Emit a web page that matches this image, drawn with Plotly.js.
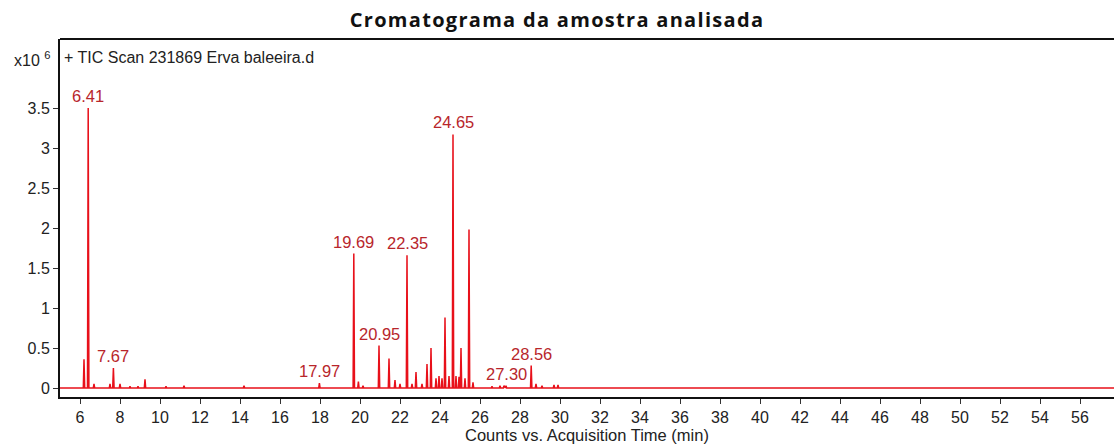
<!DOCTYPE html>
<html>
<head>
<meta charset="utf-8">
<script src="https://cdn.plot.ly/plotly-3.0.1.min.js"></script>
<style>html,body{margin:0;padding:0;background:#fff;}#chart{width:1114px;height:446px;}</style>
</head>
<body>
<div id="chart"></div>
<script>
// Retention times (min) of the peaks
const peakTimes = [6.2, 6.41, 6.7, 7.5, 7.67, 8.0, 8.5, 8.9, 9.25, 10.3, 11.2, 14.2, 17.97,
  19.69, 19.92, 20.15, 20.95, 21.45, 21.75, 22.0, 22.35, 22.6, 22.8, 23.1, 23.35, 23.55,
  23.8, 23.95, 24.1, 24.25, 24.45, 24.65, 24.8, 24.95, 25.05, 25.25, 25.45, 25.65,
  26.6, 27.0, 27.2, 27.3, 28.56, 28.8, 29.1, 29.7, 29.9];
// Peak heights (x10^6 counts)
const peakHeights = [0.36, 3.5, 0.05, 0.05, 0.25, 0.05, 0.02, 0.02, 0.11, 0.02, 0.03, 0.03, 0.06,
  1.68, 0.08, 0.03, 0.53, 0.37, 0.1, 0.05, 1.66, 0.05, 0.2, 0.05, 0.3, 0.5,
  0.12, 0.15, 0.12, 0.88, 0.15, 3.17, 0.15, 0.14, 0.5, 0.12, 1.98, 0.07,
  0.02, 0.03, 0.03, 0.03, 0.28, 0.05, 0.03, 0.04, 0.04];
// Labelled peaks
const labelTimes = [6.41, 7.67, 17.97, 19.69, 20.95, 22.35, 24.65, 27.30, 28.56];
const labelTexts = ["6.41", "7.67", "17.97", "19.69", "20.95", "22.35", "24.65", "27.30", "28.56"];
// Axis ticks
const xTicks = [6,8,10,12,14,16,18,20,22,24,26,28,30,32,34,36,38,40,42,44,46,48,50,52,54,56];
const yTicks = [0, 0.5, 1, 1.5, 2, 2.5, 3, 3.5];
const yTickText = ["0", "0.5", "1", "1.5", "2", "2.5", "3", "3.5"];
const xRange = [5, 57.7];
const yRange = [-0.1125, 4.3625];

const FONT = 'Liberation Sans, Arial, sans-serif';

// Build a spike trace from the peak list
const halfWidth = 0.035;
const xs = [xRange[0]], ys = [0];
peakTimes.forEach((t, i) => {
  xs.push(t - halfWidth, t, t + halfWidth);
  ys.push(0, peakHeights[i], 0);
});
xs.push(xRange[1]); ys.push(0);

const annotations = labelTimes.map((t, i) => {
  const idx = peakTimes.findIndex(p => Math.abs(p - t) < 1e-6);
  return {
    x: t, y: peakHeights[idx], xref: 'x', yref: 'y',
    text: labelTexts[i], showarrow: false, yanchor: 'bottom', yshift: 1,
    font: {family: FONT, size: 16.5, color: '#b8262b'}
  };
});
annotations.push({
  xref: 'paper', yref: 'paper', x: 0.002, y: 1, xanchor: 'left', yanchor: 'top', yshift: -8,
  text: '+ TIC Scan 231869 Erva baleeira.d', showarrow: false,
  font: {family: FONT, size: 16, color: '#222'}
});
annotations.push({
  xref: 'paper', yref: 'paper', x: -0.008, y: 1, xanchor: 'right', yanchor: 'top', yshift: -8,
  text: 'x10 <sup>6</sup>', showarrow: false,
  font: {family: FONT, size: 16, color: '#222'}
});

const trace = {
  x: xs, y: ys, type: 'scatter', mode: 'lines',
  line: {color: '#e8101a', width: 1.5}, hoverinfo: 'skip'
};

const layout = {
  width: 1114, height: 446,
  margin: {l: 60, r: 0, t: 39, b: 49},
  paper_bgcolor: '#fff', plot_bgcolor: '#fff',
  showlegend: false,
  title: {text: 'Cromatograma da amostra analisada', x: 0.5, xanchor: 'center', y: 0.955, yanchor: 'middle',
    font: {family: 'Open Sans, sans-serif', size: 20, color: '#111', weight: 'bold'}},
  xaxis: {
    range: xRange, tickvals: xTicks, ticktext: xTicks.map(String),
    showgrid: false, zeroline: false, showline: true, linecolor: '#111', linewidth: 2,
    ticks: 'outside', ticklen: 5, tickcolor: '#333', tickwidth: 1,
    tickfont: {family: FONT, size: 16, color: '#222'},
    title: {text: 'Counts vs. Acquisition Time (min)', standoff: 4,
      font: {family: FONT, size: 16.5, color: '#222'}}
  },
  yaxis: {
    range: yRange, tickvals: yTicks, ticktext: yTickText,
    showgrid: false, zeroline: false, showline: true, linecolor: '#111', linewidth: 2,
    ticks: 'outside', ticklen: 5, tickcolor: '#333', tickwidth: 1,
    tickfont: {family: FONT, size: 16, color: '#222'}
  },
  shapes: [{type: 'line', xref: 'paper', yref: 'paper', x0: 0, x1: 1, y0: 1, y1: 1,
    line: {color: '#111', width: 2}}],
  annotations: annotations
};

Plotly.newPlot('chart', [trace], layout, {displayModeBar: false, staticPlot: true}).then(() => {
  const t = document.querySelector('.gtitle');
  if (t) t.style.letterSpacing = '1.3px';
});
</script>
</body>
</html>
